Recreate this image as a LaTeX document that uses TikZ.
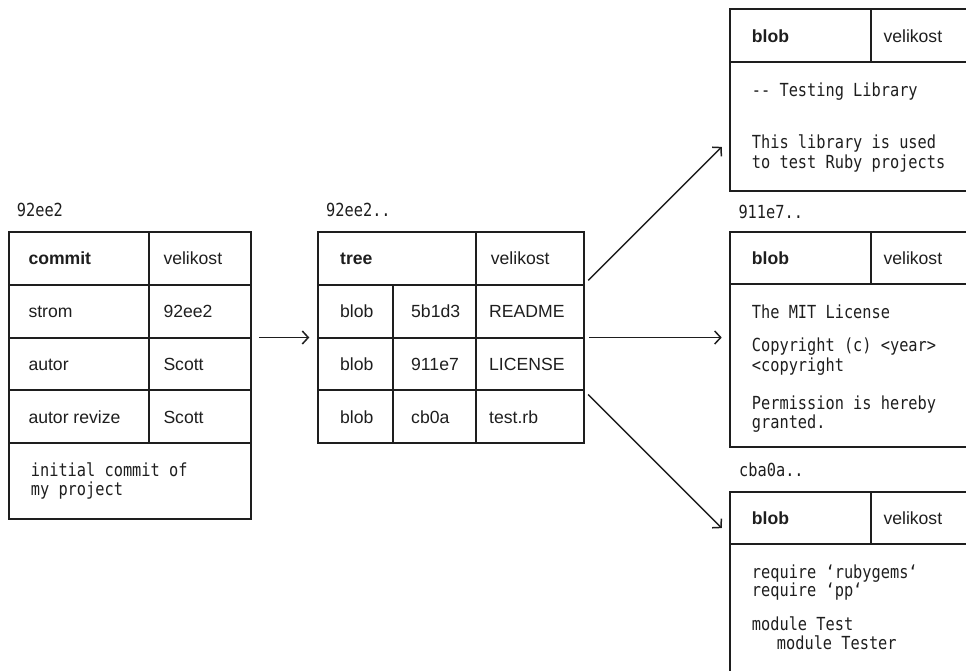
\documentclass[tikz,border=0pt]{standalone}
\usepackage{fontspec}
\setsansfont{Liberation Sans}
\newfontfamily\codefont[FakeStretch=0.85]{DejaVu Sans Mono}
\usetikzlibrary{arrows.meta}
\definecolor{ink}{HTML}{1E1E1E}
\begin{document}
\begin{tikzpicture}[x=1pt,y=-1pt,
  box/.style={draw=ink, line width=2pt, anchor=north west, inner sep=0pt, outer sep=0pt},
  lbl/.style={anchor=base west, inner sep=0pt, text=ink, font=\sffamily\fontsize{17.6}{21}\selectfont},
  hdr/.style={anchor=base west, inner sep=0pt, text=ink, font=\sffamily\bfseries\fontsize{17.6}{21}\selectfont},
  code/.style={anchor=base west, inner sep=0pt, text=ink, font=\codefont\fontsize{18}{20}\selectfont},
  arr/.style={draw=ink, line width=1.5pt, -{Straight Barb[length=6pt,width=13pt]}}]
\useasboundingbox (0,0) rectangle (966,670);
\clip (0,0) rectangle (966,670);

% ---------- commit ----------
\node[code] (cmid) at (16.7,216.7) {92ee2};
\node[box, minimum width=140.3pt, minimum height=52.9pt] (cm-k1) at (9,231.7) {};
\node[box, minimum width=101.7pt, minimum height=52.9pt] (cm-v1) at (149.3,231.7) {};
\node[box, minimum width=140.3pt, minimum height=52.9pt] (cm-k2) at (9,284.6) {};
\node[box, minimum width=101.7pt, minimum height=52.9pt] (cm-v2) at (149.3,284.6) {};
\node[box, minimum width=140.3pt, minimum height=52.9pt] (cm-k3) at (9,337.5) {};
\node[box, minimum width=101.7pt, minimum height=52.9pt] (cm-v3) at (149.3,337.5) {};
\node[box, minimum width=140.3pt, minimum height=52.9pt] (cm-k4) at (9,390.4) {};
\node[box, minimum width=101.7pt, minimum height=52.9pt] (cm-v4) at (149.3,390.4) {};
\node[box, minimum width=242pt, minimum height=75.7pt] (cm-body) at (9,443.3) {};
\node[hdr] (t-commit) at (28.3,264.6) {commit};
\node[lbl] (t-cmsize) at (163.3,264.6) {velikost};
\node[lbl] (t-strom) at (28.3,317.5) {strom};
\node[lbl] (t-stromv) at (163.3,317.5) {92ee2};
\node[lbl] (t-autor) at (28.3,370.4) {autor};
\node[lbl] (t-autorv) at (163.3,370.4) {Scott};
\node[lbl] (t-rev) at (28.3,423.3) {autor revize};
\node[lbl] (t-revv) at (163.3,423.3) {Scott};
\node[code] (t-msg1) at (30.7,476.7) {initial commit of};
\node[code] (t-msg2) at (30.7,495) {my project};

% ---------- tree ----------
\node[code] (trid) at (326,216.7) {92ee2..};
\node[box, minimum width=157.4pt, minimum height=52.9pt] (tr-h) at (318.3,231.7) {};
\node[box, minimum width=108.3pt, minimum height=52.9pt] (tr-hs) at (475.7,231.7) {};
\node[box, minimum width=75pt, minimum height=52.9pt] (tr-a1) at (318.3,284.6) {};
\node[box, minimum width=82.4pt, minimum height=52.9pt] (tr-b1) at (393.3,284.6) {};
\node[box, minimum width=108.3pt, minimum height=52.9pt] (tr-n1) at (475.7,284.6) {};
\node[box, minimum width=75pt, minimum height=52.9pt] (tr-a2) at (318.3,337.5) {};
\node[box, minimum width=82.4pt, minimum height=52.9pt] (tr-b2) at (393.3,337.5) {};
\node[box, minimum width=108.3pt, minimum height=52.9pt] (tr-n2) at (475.7,337.5) {};
\node[box, minimum width=75pt, minimum height=52.9pt] (tr-a3) at (318.3,390.4) {};
\node[box, minimum width=82.4pt, minimum height=52.9pt] (tr-b3) at (393.3,390.4) {};
\node[box, minimum width=108.3pt, minimum height=52.9pt] (tr-n3) at (475.7,390.4) {};
\node[hdr] (t-tree) at (340,264.6) {tree};
\node[lbl] (t-trsize) at (490.7,264.6) {velikost};
\node[lbl] (t-ta1) at (340,317.5) {blob};
\node[lbl] (t-tb1) at (411,317.5) {5b1d3};
\node[lbl] (t-tn1) at (489,317.5) {README};
\node[lbl] (t-ta2) at (340,370.4) {blob};
\node[lbl] (t-tb2) at (411,370.4) {911e7};
\node[lbl] (t-tn2) at (489,370.4) {LICENSE};
\node[lbl] (t-ta3) at (340,423.3) {blob};
\node[lbl] (t-tb3) at (411,423.3) {cb0a};
\node[lbl] (t-tn3) at (489,423.3) {test.rb};

% ---------- blob top ----------
\node[box, minimum width=140.7pt, minimum height=52.4pt] (bt-h) at (730,9.3) {};
\node[box, minimum width=140pt, minimum height=52.4pt] (bt-hs) at (870.7,9.3) {};
\node[box, minimum width=290pt, minimum height=129pt] (bt-body) at (730,61.7) {};
\node[hdr] (t-bt) at (751.7,42) {blob};
\node[lbl] (t-bts) at (883.3,42) {velikost};
\node[code] (t-bt1) at (751.7,96.7) {-{}- Testing Library};
\node[code] (t-bt2) at (751.7,148.3) {This library is used};
\node[code] (t-bt3) at (751.7,168.3) {to test Ruby projects};

% ---------- blob middle ----------
\node[code] (bmid) at (738.3,218.3) {911e7..};
\node[box, minimum width=140.7pt, minimum height=52pt] (bm-h) at (730,232.3) {};
\node[box, minimum width=140pt, minimum height=52pt] (bm-hs) at (870.7,232.3) {};
\node[box, minimum width=290pt, minimum height=163pt] (bm-body) at (730,284.3) {};
\node[hdr] (t-bm) at (751.7,264.8) {blob};
\node[lbl] (t-bms) at (883.3,264.8) {velikost};
\node[code] (t-bm1) at (751.7,318.3) {The MIT License};
\node[code] (t-bm2) at (751.7,351.7) {Copyright (c) <year>};
\node[code] (t-bm3) at (751.7,371) {<copyright};
\node[code] (t-bm4) at (751.7,409) {Permission is hereby};
\node[code] (t-bm5) at (751.7,428.3) {granted.};

% ---------- blob bottom ----------
\node[code] (bbid) at (739,476.7) {cba0a..};
\node[box, minimum width=140.7pt, minimum height=52pt] (bb-h) at (730,492.3) {};
\node[box, minimum width=140pt, minimum height=52pt] (bb-hs) at (870.7,492.3) {};
\node[box, minimum width=290pt, minimum height=200pt] (bb-body) at (730,544.3) {};
\node[hdr] (t-bb) at (751.7,524.8) {blob};
\node[lbl] (t-bbs) at (883.3,524.8) {velikost};
\node[code] (t-bb1) at (751.7,578.3) {require ‘rubygems‘};
\node[code] (t-bb2) at (751.7,596.7) {require ‘pp‘};
\node[code] (t-bb3) at (751.7,630.7) {module Test};
\node[code] (t-bb4) at (776.7,649) {module Tester};

% ---------- connectors ----------
\coordinate (inA) at (730,138.6);
\coordinate (inB) at (730,337.5);
\coordinate (inC) at (730,536.4);
\draw[arr, shorten <=8pt, shorten >=9pt] (cm-v2.south east) -- (tr-a2.north west);
\draw[arr, shorten <=6pt, shorten >=11.7pt] (tr-n1.north east) -- (inA);
\draw[arr, shorten <=5pt, shorten >=8.3pt] (tr-n2.north east) -- (inB);
\draw[arr, shorten <=5.8pt, shorten >=11.7pt] (tr-n3.north east) -- (inC);
\end{tikzpicture}
\end{document}
